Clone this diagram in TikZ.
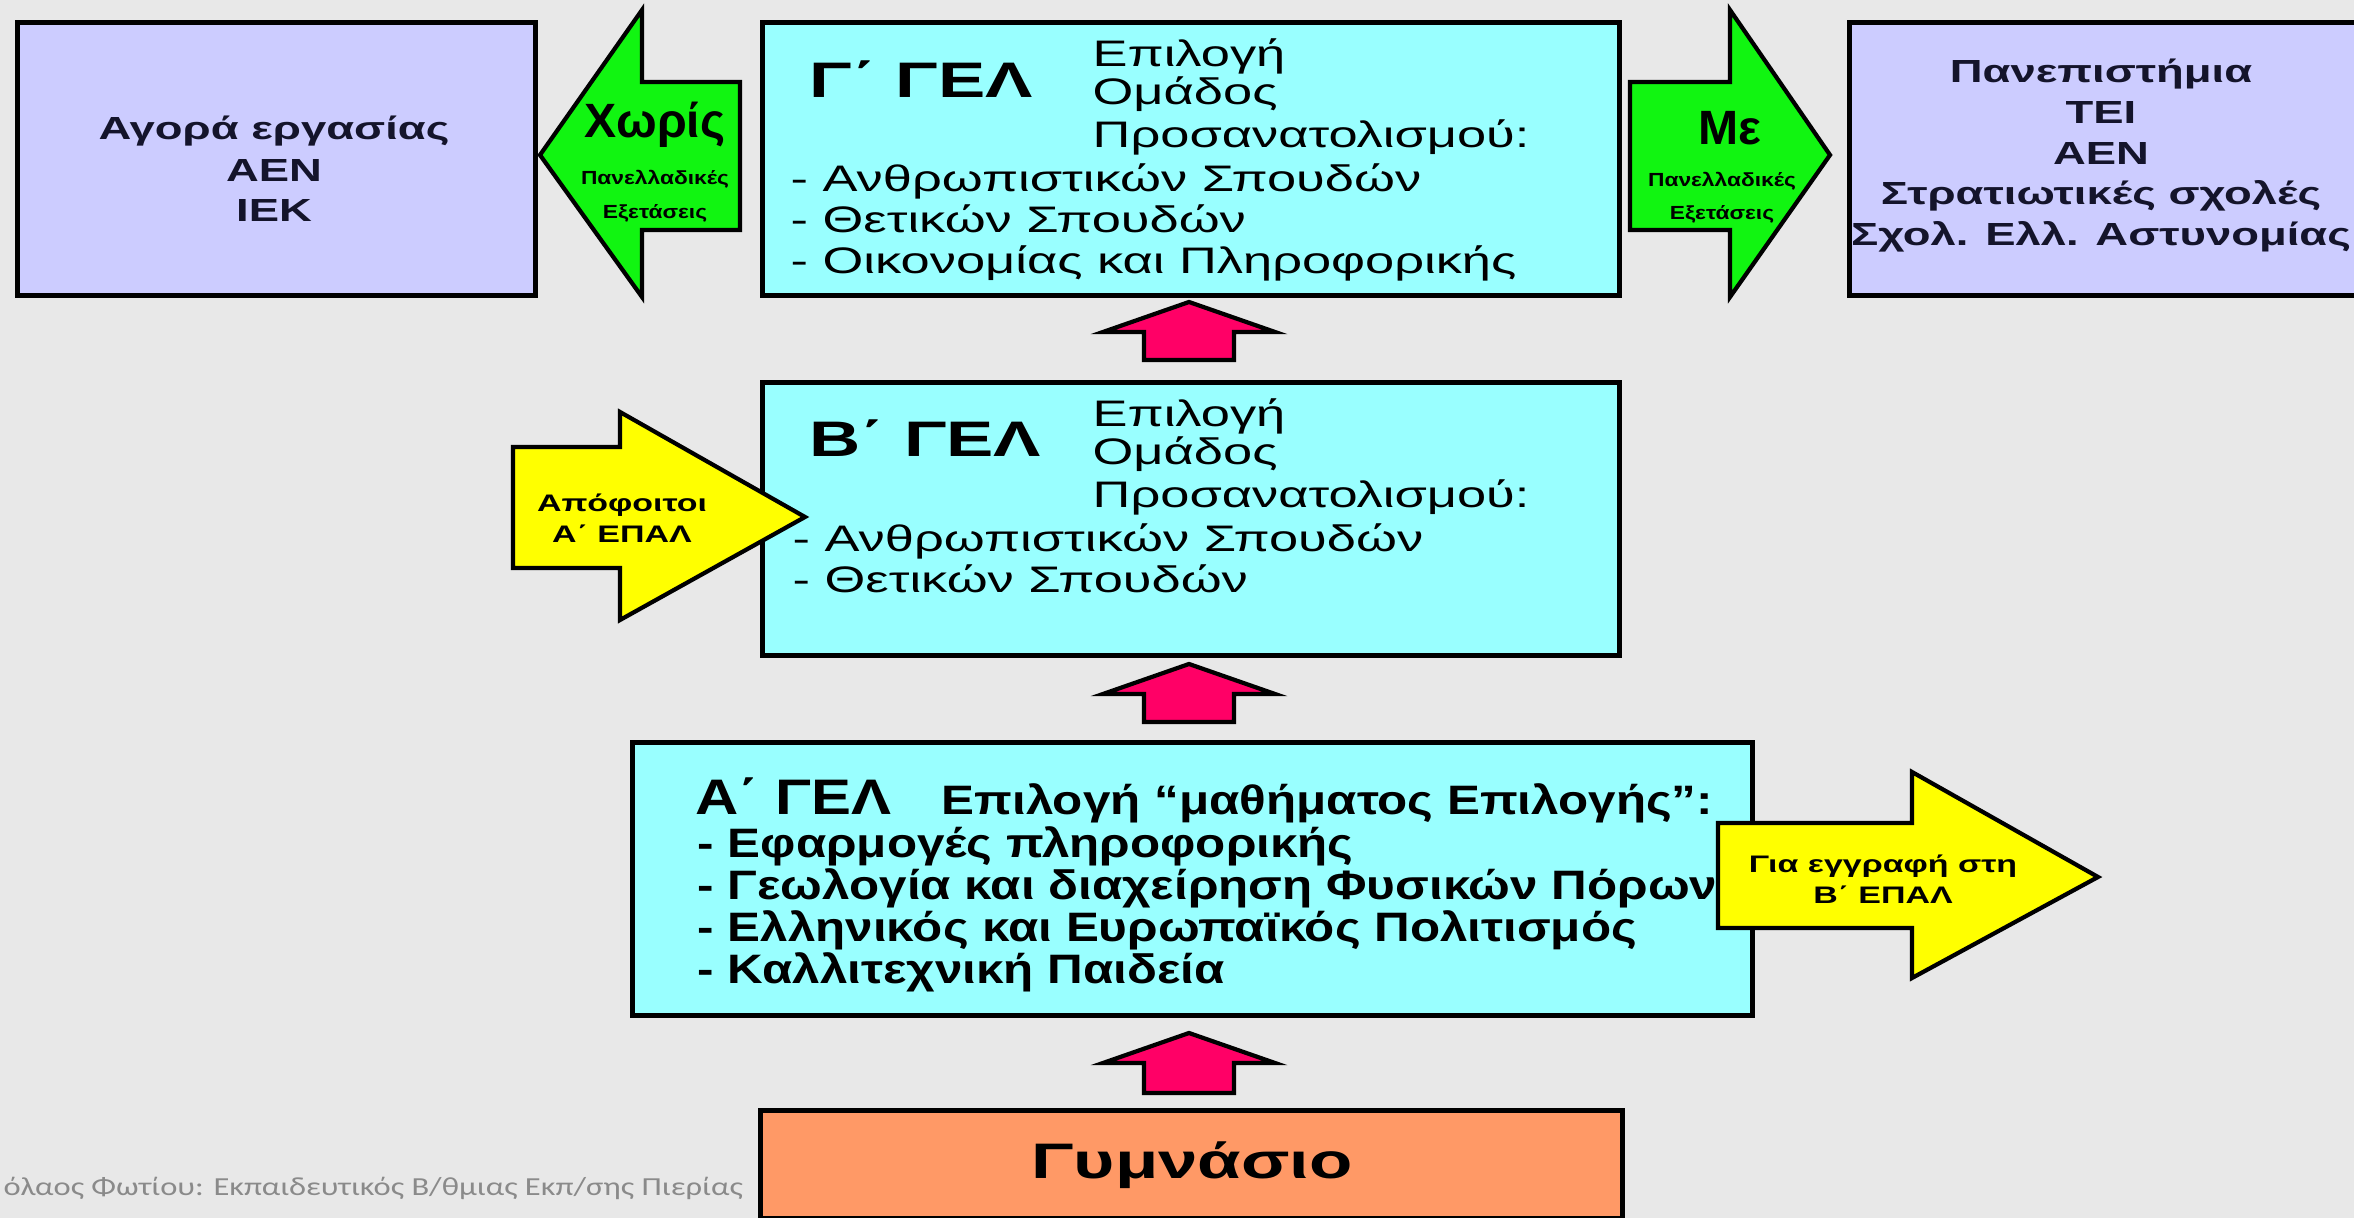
\documentclass[tikz,border=0pt]{standalone}
\usepackage{fontspec}
\setmainfont{Liberation Sans}[FakeStretch=1.42]
\newfontfamily\narrowf{Liberation Sans}[FakeStretch=1.2]
\newfontfamily\condf{Liberation Sans}
\newfontfamily\footf{Carlito}[FakeStretch=1.25]
\definecolor{bgc}{HTML}{E8E8E8}
\definecolor{lavf}{HTML}{CCCCFF}
\definecolor{cyanf}{HTML}{99FFFF}
\definecolor{greenf}{HTML}{11F511}
\definecolor{yellowf}{HTML}{FFFF00}
\definecolor{redf}{HTML}{FF0066}
\definecolor{orangef}{HTML}{FF9966}
\definecolor{navyt}{HTML}{14142B}
\definecolor{footgray}{HTML}{8A8A8A}
\begin{document}
\begin{tikzpicture}[x=0.1mm,y=-0.1mm,
  box/.style={draw=black, line width=1.5pt, inner sep=0pt, anchor=north west},
  blockarrow/.style={draw=black, line width=1.2pt, line join=miter},
  lavt/.style={inner sep=0pt, anchor=base, text=navyt, font=\bfseries\fontsize{9.1pt}{11pt}\selectfont},
  titlet/.style={inner sep=0pt, anchor=base west, font=\bfseries\fontsize{14.2pt}{16pt}\selectfont},
  bodyt/.style={inner sep=0pt, anchor=base west, font=\fontsize{10.5pt}{12pt}\selectfont},
  atitle/.style={inner sep=0pt, anchor=base west, font=\narrowf\bfseries\fontsize{14.2pt}{16pt}\selectfont},
  abody/.style={inner sep=0pt, anchor=base west, font=\narrowf\bfseries\fontsize{11.7pt}{13pt}\selectfont},
  bigarr/.style={inner sep=0pt, anchor=base, font=\condf\bfseries\fontsize{13.7pt}{15pt}\selectfont},
  smallarr/.style={inner sep=0pt, anchor=base, font=\narrowf\bfseries\fontsize{5.4pt}{6pt}\selectfont},
  yelt/.style={inner sep=0pt, anchor=base, font=\bfseries\fontsize{6.8pt}{8pt}\selectfont},
  gymt/.style={inner sep=0pt, anchor=base, font=\bfseries\fontsize{14.2pt}{16pt}\selectfont},
  foott/.style={inner sep=0pt, anchor=base west, text=footgray, font=\footf\fontsize{7.4pt}{9pt}\selectfont}]
\useasboundingbox (0,0) rectangle (2354,1218);
\fill[bgc] (0,0) rectangle (2354,1218);

% boxes
\node[box, fill=lavf, minimum width=51.8mm, minimum height=27.3mm] (L) at (15,20) {};
\node[box, fill=cyanf, minimum width=85.7mm, minimum height=27.3mm] (G) at (760,20) {};
\node[box, fill=lavf, minimum width=52.0mm, minimum height=27.3mm] (R) at (1847,20) {};
\node[box, fill=cyanf, minimum width=85.7mm, minimum height=27.3mm] (B) at (760,380) {};
\node[box, fill=cyanf, minimum width=112.0mm, minimum height=27.3mm] (A) at (630,740) {};
\node[box, fill=orangef, minimum width=86.2mm, minimum height=10.8mm] (Gym) at (758,1108) {};

% green arrows
\draw[blockarrow, fill=greenf] (540,155) -- (642,10) -- (642,82) -- (740,82) -- (740,230) -- (642,230) -- (642,297) -- cycle;
\draw[blockarrow, fill=greenf] (1630,82) -- (1730,82) -- (1730,10) -- (1830,155) -- (1730,297) -- (1730,230) -- (1630,230) -- cycle;
% yellow arrows
\draw[blockarrow, fill=yellowf] (513,447) -- (620,447) -- (620,412) -- (805,517) -- (620,620) -- (620,568) -- (513,568) -- cycle;
\draw[blockarrow, fill=yellowf] (1718,823) -- (1912,823) -- (1912,772) -- (2098,877) -- (1912,978) -- (1912,928) -- (1718,928) -- cycle;
% red up arrows
\foreach \t/\b/\e in {302/332/360, 664/694/722, 1033/1063/1093}{
  \draw[blockarrow, fill=redf] (1189,\t) -- (1275,\b) -- (1234,\b) -- (1234,\e) -- (1144,\e) -- (1144,\b) -- (1103,\b) -- cycle;
}

% left box text
\node[lavt] (L1) at (274,140) {Αγορά εργασίας};
\node[lavt] (L2) at (274,182) {ΑΕΝ};
\node[lavt] (L3) at (274,222) {ΙΕΚ};
% right box text
\node[lavt] (R1) at (2101,83) {Πανεπιστήμια};
\node[lavt] (R2) at (2101,124) {ΤΕΙ};
\node[lavt] (R3) at (2101,165) {ΑΕΝ};
\node[lavt] (R4) at (2101,205) {Στρατιωτικές σχολές};
\node[lavt] (R5) at (2101,246) {Σχολ. Ελλ. Αστυνομίας};

% G box text
\node[titlet] (Gt) at (809,98) {Γ΄ ΓΕΛ};
\node[bodyt] (G1) at (1092,67) {Επιλογή};
\node[bodyt] (G2) at (1092,105) {Ομάδος};
\node[bodyt] (G3) at (1092,148) {Προσανατολισμού:};
\node[bodyt] (G4) at (790,192) {- Ανθρωπιστικών Σπουδών};
\node[bodyt] (G5) at (790,233) {- Θετικών Σπουδών};
\node[bodyt] (G6) at (790,274) {- Οικονομίας και Πληροφορικής};

% B box text
\node[titlet] (Bt) at (809,457) {Β΄ ΓΕΛ};
\node[bodyt] (B1) at (1092,427) {Επιλογή};
\node[bodyt] (B2) at (1092,465) {Ομάδος};
\node[bodyt] (B3) at (1092,508) {Προσανατολισμού:};
\node[bodyt] (B4) at (792,552) {- Ανθρωπιστικών Σπουδών};
\node[bodyt] (B5) at (792,593) {- Θετικών Σπουδών};

% A box text
\node[atitle] (At) at (695,815) {Α΄ ΓΕΛ};
\node[abody] (A0) at (941,815) {Επιλογή “μαθήματος Επιλογής”:};
\node[abody] (A1) at (697,857) {- Εφαρμογές πληροφορικής};
\node[abody] (A2) at (697,899) {- Γεωλογία και διαχείρηση Φυσικών Πόρων};
\node[abody] (A3) at (697,941) {- Ελληνικός και Ευρωπαϊκός Πολιτισμός};
\node[abody] (A4) at (697,983) {- Καλλιτεχνική Παιδεία};

% green arrow labels
\node[bigarr] (GL1) at (655,138) {Χωρίς};
\node[smallarr] (GL2) at (655,185) {Πανελλαδικές};
\node[smallarr] (GL3) at (655,219) {Εξετάσεις};
\node[bigarr] (GR1) at (1730,145) {Με};
\node[smallarr] (GR2) at (1722,187) {Πανελλαδικές};
\node[smallarr] (GR3) at (1722,220) {Εξετάσεις};

% yellow arrow labels
\node[yelt] (YL1) at (622,512) {Απόφοιτοι};
\node[yelt] (YL2) at (622,543) {Α΄ ΕΠΑΛ};
\node[yelt] (YR1) at (1883,872) {Για εγγραφή στη};
\node[yelt] (YR2) at (1883,903) {Β΄ ΕΠΑΛ};

% Gymnasio
\node[gymt] (Gy) at (1192,1178) {Γυμνάσιο};

% footer
\node[foott] (F) at (3,1195) {όλαος Φωτίου: Εκπαιδευτικός Β/θμιας Εκπ/σης Πιερίας};
\end{tikzpicture}
\end{document}
